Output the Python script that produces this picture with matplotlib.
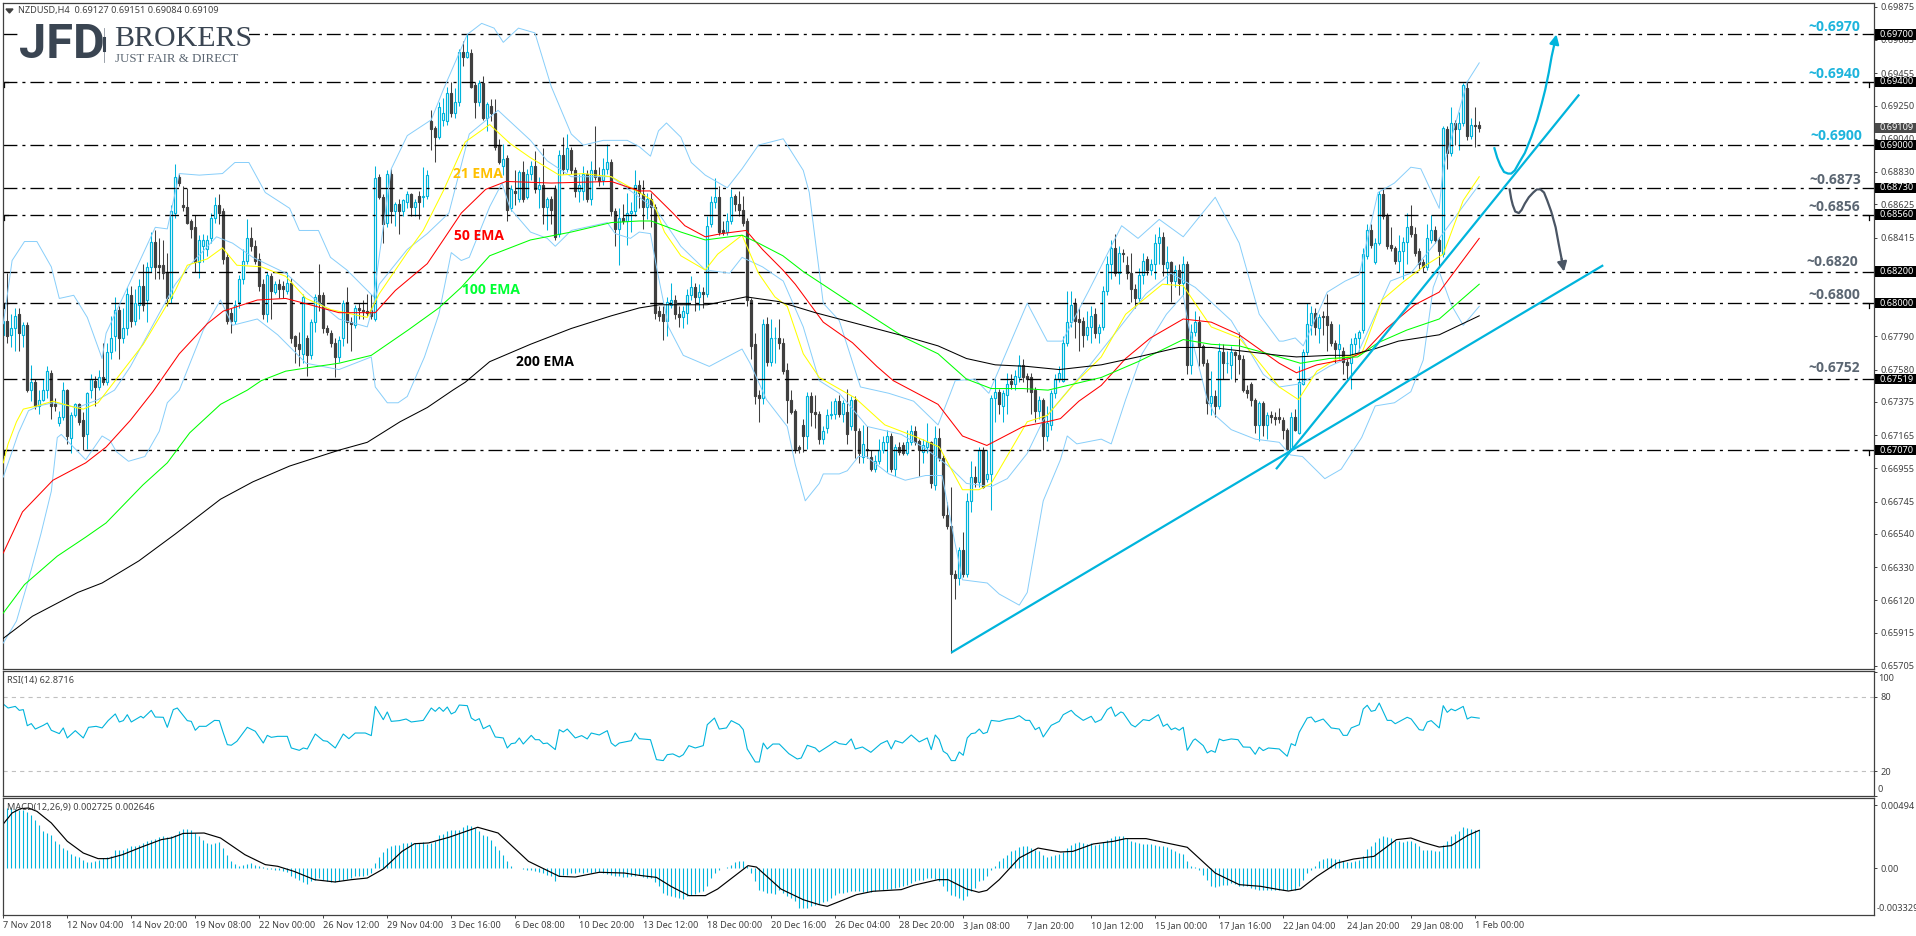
import numpy as np
import matplotlib
matplotlib.use("Agg")
import matplotlib.pyplot as plt
from matplotlib.patches import Rectangle

# ---------- candles, NZDUSD H4 ----------
opens = [
.6780,.6789,.6780,.6784,.6793,.6780,.6786,.6745,.6750,.6735,
.6739,.6745,.6756,.6736,.6724,.6728,.6745,.6715,.6729,.6736,
.6726,.6717,.6745,.6751,.6747,.6753,.6750,.6769,.6779,.6796,
.6778,.6784,.6805,.6789,.6799,.6811,.6802,.6823,.6839,.6824,
.6824,.6820,.6803,.6857,.6880,.6862,.6861,.6852,.6848,.6826,
.6836,.6834,.6841,.6854,.6862,.6858,.6829,.6794,.6789,.6801,
.6815,.6827,.6841,.6836,.6828,.6812,.6793,.6817,.6807,.6812,
.6811,.6808,.6813,.6779,.6774,.6768,.6778,.6767,.6788,.6805,
.6805,.6784,.6781,.6775,.6766,.6778,.6801,.6788,.6786,.6797,
.6796,.6795,.6796,.6790,.6880,.6867,.6851,.6882,.6858,.6863,
.6858,.6864,.6869,.6861,.6868,.6867,.6868,.6915,.6911,.6905,
.6916,.6915,.6933,.6920,.6927,.6959,.6956,.6958,.6938,.6927,
.6939,.6917,.6925,.6920,.6900,.6887,.6892,.6860,.6871,.6866,
.6883,.6867,.6882,.6887,.6872,.6875,.6861,.6866,.6872,.6844,
.6894,.6885,.6897,.6884,.6871,.6871,.6882,.6866,.6884,.6880,
.6878,.6885,.6889,.6858,.6847,.6854,.6852,.6857,.6858,.6875,
.6869,.6861,.6866,.6861,.6795,.6793,.6789,.6799,.6802,.6793,
.6791,.6794,.6805,.6810,.6804,.6807,.6806,.6850,.6864,.6867,
.6846,.6845,.6852,.6868,.6863,.6859,.6852,.6802,.6774,.6742,
.6740,.6787,.6763,.6778,.6778,.6775,.6758,.6739,.6732,.6709,
.6723,.6716,.6741,.6731,.6730,.6714,.6721,.6729,.6730,.6738,
.6730,.6731,.6722,.6739,.6719,.6703,.6708,.6703,.6695,.6700,
.6707,.6712,.6716,.6695,.6709,.6710,.6705,.6712,.6719,.6713,
.6706,.6709,.6712,.6685,.6715,.6702,.6666,.6659,.6629,.6626,
.6644,.6629,.6675,.6690,.6687,.6707,.6689,.6692,.6740,.6744,
.6735,.6742,.6751,.6749,.6753,.6761,.6754,.6753,.6745,.6732,
.6739,.6716,.6723,.6743,.6752,.6751,.6775,.6788,.6800,.6790,
.6789,.6780,.6785,.6793,.6781,.6785,.6808,.6825,.6835,.6819,
.6832,.6824,.6819,.6809,.6803,.6818,.6828,.6821,.6825,.6838,
.6842,.6822,.6826,.6814,.6821,.6813,.6825,.6761,.6782,.6788,
.6773,.6762,.6737,.6741,.6735,.6769,.6762,.6761,.6769,.6767,
.6765,.6745,.6749,.6739,.6723,.6737,.6723,.6729,.6728,.6728,
.6726,.6720,.6708,.6728,.6718,.6749,.6769,.6786,.6794,.6784,
.6792,.6792,.6787,.6775,.6771,.6770,.6763,.6762,.6774,.6778,
.6783,.6830,.6846,.6826,.6838,.6869,.6855,.6837,.6835,.6827,
.6833,.6839,.6849,.6844,.6833,.6826,.6823,.6840,.6846,.6840,
.6831,.6910,.6895,.6914,.6910,.6914,.6936,.6906,.6913,.69127]
closes = [
.6789,.6779,.6784,.6792,.6781,.6786,.6745,.6750,.6735,.6739,
.6745,.6757,.6735,.6735,.6728,.6745,.6716,.6729,.6736,.6725,
.6716,.6743,.6752,.6747,.6753,.6750,.6769,.6778,.6796,.6778,
.6784,.6806,.6789,.6800,.6811,.6799,.6823,.6839,.6823,.6823,
.6819,.6803,.6858,.6880,.6876,.6861,.6851,.6847,.6826,.6840,
.6840,.6840,.6854,.6862,.6857,.6828,.6789,.6789,.6799,.6815,
.6827,.6841,.6836,.6827,.6811,.6793,.6818,.6808,.6812,.6809,
.6809,.6813,.6778,.6773,.6771,.6804,.6767,.6788,.6804,.6801,
.6784,.6782,.6775,.6766,.6777,.6800,.6788,.6787,.6797,.6796,
.6795,.6794,.6792,.6879,.6867,.6850,.6882,.6858,.6863,.6858,
.6865,.6869,.6861,.6864,.6864,.6868,.6881,.6910,.6905,.6924,
.6920,.6933,.6920,.6927,.6959,.6956,.6959,.6937,.6927,.6939,
.6917,.6926,.6920,.6899,.6889,.6891,.6859,.6872,.6870,.6883,
.6866,.6882,.6887,.6872,.6875,.6861,.6866,.6859,.6842,.6894,
.6885,.6898,.6884,.6871,.6875,.6882,.6866,.6884,.6880,.6877,
.6885,.6889,.6858,.6847,.6854,.6852,.6857,.6858,.6875,.6870,
.6861,.6866,.6861,.6794,.6792,.6789,.6801,.6802,.6793,.6791,
.6795,.6805,.6810,.6804,.6807,.6806,.6849,.6864,.6867,.6845,
.6845,.6852,.6867,.6863,.6859,.6851,.6802,.6773,.6741,.6740,
.6787,.6763,.6778,.6778,.6775,.6757,.6739,.6731,.6708,.6708,
.6716,.6741,.6731,.6730,.6714,.6719,.6729,.6730,.6738,.6730,
.6737,.6717,.6739,.6720,.6705,.6711,.6707,.6695,.6700,.6707,
.6712,.6716,.6695,.6709,.6706,.6705,.6712,.6719,.6712,.6707,
.6710,.6712,.6686,.6715,.6702,.6666,.6659,.6629,.6626,.6644,
.6629,.6675,.6690,.6687,.6707,.6684,.6692,.6740,.6744,.6736,
.6743,.6749,.6749,.6754,.6761,.6753,.6752,.6744,.6732,.6739,
.6716,.6724,.6743,.6752,.6756,.6775,.6788,.6799,.6789,.6788,
.6780,.6785,.6792,.6781,.6785,.6808,.6825,.6835,.6819,.6832,
.6831,.6819,.6809,.6803,.6818,.6827,.6821,.6825,.6838,.6842,
.6825,.6826,.6814,.6821,.6813,.6825,.6761,.6782,.6788,.6773,
.6762,.6737,.6741,.6735,.6770,.6762,.6762,.6769,.6767,.6765,
.6745,.6743,.6739,.6723,.6737,.6723,.6729,.6728,.6727,.6727,
.6720,.6708,.6728,.6720,.6750,.6769,.6787,.6794,.6785,.6791,
.6791,.6786,.6775,.6771,.6774,.6763,.6761,.6774,.6778,.6782,
.6831,.6846,.6837,.6838,.6869,.6855,.6836,.6835,.6827,.6833,
.6839,.6848,.6844,.6832,.6825,.6823,.6841,.6846,.6840,.6833,
.6911,.6895,.6914,.6910,.6914,.6938,.6906,.6913,.6912,.69109]
highs = [
.6793,.6819,.6793,.6797,.6797,.6788,.6788,.6761,.6752,.6745,
.6752,.6760,.6758,.6740,.6732,.6750,.6746,.6731,.6737,.6737,
.6731,.6744,.6755,.6754,.6758,.6775,.6775,.6792,.6804,.6798,
.6797,.6810,.6811,.6809,.6815,.6825,.6826,.6845,.6846,.6841,
.6840,.6832,.6862,.6888,.6882,.6874,.6873,.6853,.6856,.6843,
.6844,.6843,.6857,.6867,.6869,.6860,.6832,.6797,.6802,.6818,
.6834,.6853,.6848,.6840,.6832,.6815,.6820,.6819,.6814,.6815,
.6814,.6820,.6816,.6780,.6782,.6806,.6780,.6790,.6806,.6825,
.6807,.6786,.6783,.6778,.6779,.6802,.6810,.6791,.6799,.6800,
.6802,.6806,.6806,.6887,.6882,.6869,.6884,.6885,.6864,.6866,
.6866,.6871,.6870,.6866,.6871,.6886,.6884,.6922,.6912,.6927,
.6930,.6937,.6940,.6936,.6961,.6966,.6970,.6961,.6940,.6941,
.6944,.6927,.6929,.6929,.6904,.6901,.6894,.6875,.6884,.6884,
.6890,.6885,.6890,.6896,.6880,.6898,.6867,.6868,.6875,.6897,
.6905,.6907,.6899,.6886,.6882,.6887,.6884,.6890,.6912,.6886,
.6892,.6901,.6891,.6860,.6860,.6863,.6870,.6864,.6884,.6878,
.6878,.6870,.6870,.6863,.6798,.6798,.6804,.6813,.6805,.6798,
.6798,.6809,.6817,.6813,.6812,.6810,.6855,.6868,.6879,.6874,
.6852,.6857,.6872,.6869,.6871,.6868,.6854,.6803,.6781,.6745,
.6790,.6791,.6790,.6785,.6790,.6778,.6762,.6745,.6733,.6710,
.6727,.6744,.6744,.6742,.6732,.6722,.6733,.6738,.6740,.6742,
.6739,.6746,.6741,.6741,.6721,.6723,.6722,.6707,.6704,.6714,
.6716,.6720,.6718,.6711,.6712,.6712,.6720,.6723,.6722,.6714,
.6714,.6724,.6713,.6722,.6721,.6704,.6674,.6684,.6631,.6646,
.6655,.6680,.6700,.6697,.6709,.6709,.6707,.6742,.6752,.6746,
.6745,.6756,.6755,.6758,.6767,.6765,.6756,.6756,.6747,.6741,
.6740,.6735,.6745,.6755,.6760,.6779,.6808,.6808,.6803,.6797,
.6791,.6795,.6798,.6797,.6787,.6811,.6830,.6840,.6844,.6836,
.6834,.6830,.6832,.6812,.6822,.6832,.6830,.6828,.6844,.6848,
.6845,.6836,.6827,.6824,.6825,.6830,.6827,.6787,.6795,.6792,
.6774,.6765,.6757,.6745,.6775,.6774,.6770,.6773,.6770,.6782,
.6767,.6748,.6750,.6740,.6738,.6738,.6731,.6732,.6731,.6734,
.6728,.6721,.6731,.6733,.6760,.6771,.6800,.6798,.6797,.6793,
.6795,.6806,.6789,.6777,.6787,.6772,.6765,.6778,.6781,.6783,
.6835,.6850,.6850,.6841,.6871,.6872,.6857,.6848,.6836,.6843,
.6842,.6857,.6862,.6848,.6835,.6828,.6850,.6856,.6849,.6842,
.6912,.6912,.6924,.6916,.6921,.6939,.6940,.6917,.6924,.69151]
lows = [
.6771,.6775,.6772,.6770,.6770,.6772,.6744,.6738,.6733,.6730,
.6738,.6740,.6727,.6732,.6722,.6726,.6711,.6705,.6728,.6723,
.6707,.6708,.6740,.6735,.6745,.6748,.6748,.6765,.6770,.6765,
.6775,.6780,.6785,.6786,.6790,.6795,.6788,.6820,.6815,.6815,
.6815,.6798,.6800,.6854,.6874,.6858,.6850,.6841,.6820,.6816,
.6826,.6830,.6838,.6851,.6850,.6825,.6787,.6781,.6787,.6797,
.6812,.6825,.6833,.6825,.6808,.6790,.6788,.6790,.6806,.6803,
.6803,.6806,.6775,.6762,.6760,.6762,.6754,.6765,.6782,.6795,
.6781,.6780,.6772,.6753,.6763,.6773,.6775,.6770,.6784,.6790,
.6790,.6792,.6790,.6789,.6866,.6838,.6848,.6851,.6849,.6844,
.6855,.6860,.6855,.6855,.6853,.6861,.6866,.6897,.6889,.6904,
.6912,.6913,.6918,.6917,.6925,.6950,.6955,.6936,.6917,.6925,
.6916,.6909,.6915,.6897,.6888,.6881,.6852,.6858,.6862,.6864,
.6864,.6866,.6878,.6870,.6860,.6850,.6846,.6850,.6840,.6842,
.6882,.6883,.6882,.6867,.6864,.6865,.6864,.6862,.6878,.6874,
.6875,.6882,.6855,.6836,.6824,.6850,.6837,.6845,.6855,.6860,
.6847,.6853,.6848,.6790,.6789,.6777,.6779,.6797,.6790,.6785,
.6784,.6787,.6802,.6795,.6796,.6797,.6804,.6848,.6860,.6843,
.6843,.6843,.6850,.6858,.6855,.6849,.6798,.6765,.6736,.6725,
.6736,.6760,.6760,.6762,.6771,.6755,.6724,.6730,.6705,.6705,
.6706,.6708,.6722,.6721,.6711,.6711,.6718,.6727,.6727,.6728,
.6725,.6711,.6720,.6702,.6699,.6699,.6702,.6694,.6693,.6698,
.6705,.6693,.6693,.6691,.6704,.6704,.6704,.6710,.6710,.6691,
.6699,.6705,.6683,.6682,.6700,.6664,.6657,.6579,.6613,.6622,
.6627,.6627,.6668,.6684,.6684,.6683,.6687,.6669,.6725,.6730,
.6725,.6730,.6746,.6745,.6750,.6750,.6744,.6730,.6725,.6727,
.6707,.6713,.6720,.6740,.6750,.6750,.6773,.6785,.6778,.6770,
.6772,.6777,.6775,.6778,.6775,.6783,.6805,.6815,.6817,.6812,
.6826,.6815,.6801,.6797,.6800,.6812,.6818,.6818,.6815,.6825,
.6817,.6812,.6801,.6810,.6805,.6805,.6755,.6755,.6779,.6760,
.6760,.6730,.6729,.6728,.6733,.6752,.6756,.6752,.6750,.6755,
.6744,.6740,.6735,.6718,.6713,.6716,.6714,.6724,.6723,.6724,
.6714,.6707,.6707,.6719,.6717,.6748,.6767,.6780,.6780,.6775,
.6780,.6770,.6773,.6762,.6765,.6755,.6752,.6746,.6768,.6770,
.6781,.6828,.6835,.6825,.6837,.6853,.6834,.6833,.6825,.6820,
.6815,.6825,.6842,.6830,.6821,.6820,.6821,.6838,.6838,.6823,
.6829,.6885,.6893,.6900,.6897,.6912,.6903,.6904,.6899,.69084]

# ---------- moving averages: (bar, price) ----------
ema200_x = [0,7.3,18.6,24.7,33.9,43,54.3,62.4,71.6,83.9,91,99.2,106,112.4,115.5,121.6,131.8,142,152,159,164,176,185.7,193.9,203,215,225.5,233.7,240.8,248,256,264,274.5,283.7,293.9,302,319,323.3,331.5,336.6,342.7,348.8,359,369]
ema200_y = [.6588,.6602,.6617,.6623,.6637,.6654,.6676,.6687,.6697,.6707,.6712,.6725,.6734,.6745,.6750,.6763,.6774,.6784,.6792,.6797,.6799,.6799,.6804,.6801,.6794,.6786,.6779,.6773,.6765,.6761,.6760,.6758,.6761,.6766,.6772,.6772,.6767,.6766,.6767,.6767,.6771,.6776,.6780,.6792]
ema100_x = [0,5.3,13.5,20.6,25.7,34.9,41,46.6,54.3,61,64.5,70.6,75.7,83.9,92,101.2,108.9,114.5,121.6,131.8,142,152,159,162,169.4,175.5,184.7,188.8,194.9,200,212,225.5,233.7,240.8,247,255,261.2,274.5,283.7,295,302,309,319,324.3,331.5,338.6,343.7,350.9,359,369]
ema100_y = [.6604,.6622,.6640,.6652,.6661,.6685,.6699,.6718,.6736,.6745,.6751,.6757,.6759,.6762,.6767,.6783,.6797,.6810,.6830,.6840,.6845,.6851,.6852,.6852,.6845,.6840,.6843,.6838,.6830,.6820,.6800,.6778,.6768,.6752,.6746,.6746,.6745,.6753,.6763,.6777,.6774,.6773,.6766,.6762,.6765,.6766,.6775,.6783,.6790,.6812]
ema50_x = [0,4.8,12.4,20.6,25.7,31.8,37.4,44,51,55,63.5,70.6,76.7,83.9,93,98,106,110,114.5,120.6,125.7,137,152,159,161.8,167.4,170.4,175.5,179.6,185.7,189.8,194.9,198,205,212.3,218.4,222.5,233.7,239.8,245.9,255,261,264.3,268.9,274.5,280.6,286.8,295,302,309,319,323.3,328.4,336.6,340.6,345.8,352.9,359,369]
ema50_y = [.6642,.6668,.6688,.6699,.6709,.6726,.6744,.6768,.6787,.6795,.6802,.6803,.6799,.6794,.6794,.6808,.6825,.6840,.6857,.6872,.6877,.6876,.6877,.6871,.6871,.6857,.6849,.6842,.6844,.6846,.6834,.6821,.6812,.6788,.6775,.6760,.6751,.6736,.6716,.6710,.6722,.6725,.6727,.6738,.6748,.6765,.6778,.6790,.6788,.6780,.6762,.6756,.6761,.6765,.6770,.6784,.6799,.6807,.6841]
ema21_x = [0,1.2,3.3,5,8.4,12.4,18,20,23.7,29.8,35,39.5,43,46,51,54.8,58.4,64.5,70.6,75.7,81.8,91,94,101,105,110,115.5,121.6,126.7,131.8,139,145,152,159,162.3,165.3,169.4,175.5,178.6,184.7,188.8,192.9,196,200,204,213,220.4,228.6,234,239.8,243.9,247,256,261,267.4,274.5,280.6,289.8,295,302,309,319,323.8,328.4,333.5,339.6,344.7,349.8,355,360,365,369]
ema21_y = [.6699,.6711,.6725,.6733,.6735,.6738,.6734,.6733,.6737,.6757,.6774,.6793,.6808,.6824,.6828,.6835,.6824,.6823,.6817,.6803,.6796,.6791,.6806,.6832,.6846,.6871,.6902,.6913,.6901,.6892,.6881,.6882,.6880,.6870,.6865,.6845,.6830,.6821,.6831,.6843,.6819,.6804,.6798,.6768,.6753,.6740,.6723,.6715,.6709,.6682,.6682,.6686,.6725,.6729,.6748,.6766,.6793,.6812,.6811,.6785,.6778,.6747,.6739,.6757,.6765,.6768,.6802,.6813,.6823,.6831,.6865,.6880]

# ---------- Bollinger bands ----------
bb_up_x = [0,2.2,5.3,8.4,12,14,17.6,21,24.7,25.7,31.8,38,41,44,49,54.8,57.9,61.4,65.5,71.6,74,78.8,81.8,85.9,92.6,97,101,107,110,116,119.6,122.7,125,128.8,132.9,137,142,145,150,156,159,161.8,163.8,165.8,169.4,172,175.5,181,184.7,188.8,195,200,201.5,205,209,214.3,221.4,227.6,233.7,236.8,238,242.9,246.4,256,261,264.8,271.4,279.6,283.7,289,295,303,309,314,319,320,323,325,331,335.5,339,340,343.7,347.8,351.9,354.4,359,360,366,369]
bb_up_y = [.6787,.6827,.6839,.6839,.6823,.6803,.6805,.6791,.6765,.6781,.6814,.6848,.6847,.6882,.6881,.6882,.6889,.6889,.6870,.6860,.6846,.6846,.6829,.6821,.6804,.6885,.6906,.6916,.6935,.6970,.6977,.6974,.6965,.6974,.6971,.6937,.6907,.6900,.6903,.6903,.6899,.6893,.6909,.6914,.6905,.6889,.6881,.6873,.6885,.6900,.6904,.6884,.6870,.6800,.6789,.6747,.6743,.6738,.6723,.6743,.6751,.6752,.6743,.6800,.6776,.6776,.6808,.6849,.6841,.6853,.6842,.6867,.6838,.6793,.6776,.6776,.6778,.6773,.6807,.6814,.6818,.6829,.6870,.6876,.6886,.6885,.6860,.6886,.6940,.6952]
bb_mid_x = [0,3.8,6.3,8.9,12.4,18.6,23.7,27.8,31.8,38,43,47,53.3,57.3,62.4,70.6,76.7,83.9,91,94,101,106,111.4,116.5,123.7,131.8,136,142,147,152,159,163.3,169.4,175.5,181.6,184.7,189.8,195,200,204,209,216,224.5,230.6,236.8,240.8,247,251,256,260,266.3,271.4,278.6,285.7,291.9,298,307,315,319,324.3,331.5,338.6,346.8,351.9,359,369]
bb_mid_y = [.6690,.6718,.6732,.6735,.6737,.6734,.6739,.6745,.6760,.6789,.6812,.6825,.6842,.6838,.6829,.6819,.6805,.6790,.6785,.6812,.6834,.6844,.6857,.6907,.6922,.6903,.6890,.6880,.6880,.6880,.6867,.6859,.6836,.6821,.6819,.6829,.6823,.6814,.6785,.6751,.6743,.6722,.6717,.6708,.6696,.6686,.6684,.6689,.6705,.6726,.6745,.6760,.6783,.6806,.6819,.6810,.6789,.6755,.6747,.6749,.6760,.6768,.6814,.6819,.6841,.6875]
bb_lo_x = [0,3.3,6.3,9.4,12,13.5,14.5,16,20.6,24.7,26.7,28.3,31.3,35.4,39,41,44,50,54.3,57.3,63.5,68.6,75.7,83.9,92,93,96,98.7,101,105.3,108.9,112,114.5,116.5,121.6,124.7,126.7,131.8,136,138,142,151,153,156.8,159,161.8,163.3,166.3,170,176.5,184.7,186.7,190.8,196,198,200.5,204,205,209,211,213.8,215.8,221.4,225.5,230.6,234.7,237.8,239.8,246,249,254,256,260,264.3,266,268.4,274.5,277,280.6,284.7,290.8,295,296.4,301,303,307,313,319,321.8,324.8,330.4,334.5,339.6,343,347.8,351.9,355,357.5,359,362,365,369]
bb_lo_y = [.6585,.6599,.6625,.6654,.6681,.6715,.6717,.6713,.6701,.6716,.6713,.6706,.6700,.6703,.6719,.6737,.6745,.6783,.6802,.6786,.6790,.6780,.6762,.6758,.6766,.6747,.6737,.6737,.6741,.6766,.6793,.6832,.6827,.6829,.6861,.6876,.6860,.6845,.6841,.6836,.6846,.6851,.6844,.6841,.6845,.6844,.6823,.6785,.6767,.6760,.6771,.6762,.6739,.6722,.6698,.6675,.6686,.6692,.6692,.6694,.6703,.6703,.6692,.6688,.6691,.6691,.6650,.6625,.6623,.6616,.6609,.6617,.6675,.6701,.6716,.6711,.6714,.6711,.6739,.6768,.6793,.6805,.6785,.6739,.6729,.6720,.6714,.6712,.6704,.6703,.6689,.6695,.6715,.6735,.6737,.6744,.6764,.6810,.6820,.6799,.6786,.6798]

# ---------- levels, trendlines, forecast paths ----------
levels = [.6970,.6940,.6900,.6873,.6856,.6820,.6800,.67519,.6707]
level_tags = ["0.69700","0.69400","0.69000","0.68730","0.68560","0.68200","0.68000","0.67519","0.67070"]
last_price = 0.69109
hook_levels = [.6940,.6856,.6800,.6707]
trend_a_x, trend_a_y = [237,400], [.6579,.6824]
trend_b_x, trend_b_y = [318.2,394], [.6695,.6932]
up_x = [372.8,373.5,374.3,375.2,376.2,377.0,377.9,379,380.4,382,383.5,384.6,385.5,386.4,387.1,387.8]
up_y = [.6898,.6892,.6887,.6883,.6882,.6882,.6884,.6889,.6895,.6905,.6916,.6926,.6935,.6946,.6956,.6964]
down_x = [376.6,377,377.4,378,378.9,379.6,380.4,381.4,382.5,383.4,384.3,385.2,386,387,388.1,388.9,389.6]
down_y = [.6872,.6866,.6862,.6858,.6857,.6859,.6863,.6867,.6870,.6872,.6872,.6870,.6865,.6858,.6848,.6837,.6828]

price_ticks = [0.69875,0.69665,0.69455,0.69250,0.69040,0.68830,0.68625,0.68415,0.68205,0.67995,0.67790,0.67580,0.67375,0.67165,0.66955,0.66745,0.66540,0.66330,0.66120,0.65915,0.65705]

# ---------- RSI ----------
rsi_x = [0,1.2,3,4,5,6,7,8,10,11,12,14,15,16,18,20,21.3,23.2,24.7,26.2,28,29,30,31,32,34.4,35,37,38,40,41,42.5,43.5,46,47,48,49,50.7,52.8,54,55,56,57,58.4,61,63,65,66,67,68.6,71,72,74,75,76,78,80,81,83,85,86.4,88,90.5,92,93,95,96,97,99,100.7,102,105,107,108,109,110,111,112,113,114,116,117,118,119,120,121.6,123,125,126,127,128,129,130,132,133,134,135,136,138,139,140,141,143,144.6,146,147,149,151,152,153,154,157,158,
159,161.8,163.3,165,166,167.4,169,170,171.4,173,175,176,177.8,179,180.8,182,184,185,186,188,189,190,191,192.4,194,196.4,198.5,199.5,201,203,204,206.6,208,209,210.7,212,213,214.8,216.9,219.4,221,222,223,224.8,227,229,231,232,233,234,235,236,237,238,239,240,241,242,243,244,245,246,247,249,251,252.6,254,255.6,256.6,258,259,260,262,264,265,267,268,270,272,273,274.5,276,277,278,279.4,280,282,283,285,286.5,288.8,290,291,292,293,294,295,296,297.5,298,300,301,302,303,304,305,307,308.7,310,311.7,313,314,315,316.3,319,
321,322,323,324,326,327,328,330,332,334,335,336,337,339,340,341,342,343,344,346,347,348,351,352,354,355,356,357,359,360,361,362,363,365,366,367,369]
rsi_y = [74.3,71.1,72.4,69.2,69.8,56.8,58.5,54.1,57.1,59,53.1,50.4,55,46.9,52.8,46.9,55.5,56.3,55,60.9,66.3,59.8,60.9,65.7,59.8,64.4,63,69.2,63.8,63.6,55.5,69.8,71.1,60.9,60.3,53.1,56.3,56.3,61.1,60.9,50.9,41.5,41,44.2,55.5,52.3,42.8,49,47.4,48.2,48.2,38.8,36.9,38.8,38,50.1,44.7,44.2,38.8,50.1,46.3,50.9,50.9,48.8,72.4,61.7,67.9,60.3,60.9,62.2,59.8,61.1,71.1,68.4,71.6,68.4,71.9,66.3,67.9,73.5,73,63,60.9,62.5,54.4,57.1,47.7,46.9,38.8,42.3,42.8,46.9,42,49,45.5,45.5,42.3,42.8,37.5,53.6,51.7,54.1,46.9,48.8,46.1,50.9,49.3,52.8,42.8,40.2,42.8,44.7,50.9,
46.3,45.5,29.4,28.6,33.4,34,31.5,33.4,40.7,38.8,40.7,57.6,63,54.1,55,60.9,57.6,53.6,38,27.5,27.5,42.8,38,42,42,34.2,29.9,30.7,41,38.8,35.6,41,44.2,42.3,41.5,46.1,38,39.6,35.3,42.3,44.7,38,44.7,42.8,49.3,43.7,46.9,37.5,49.3,45.5,36.1,34,28.6,28.6,35.6,32.9,46.9,50.4,50.9,54.1,50.4,51.5,61.1,60.3,62.2,62.8,64.9,61.1,61.1,53.6,55.5,47.7,57.1,60.3,65.7,69.2,65.7,61.1,64.4,59.5,61.7,69.8,71.9,64.4,67.9,67.1,57.6,55.8,61.7,60.9,65.7,56.3,58.2,53.6,55,53.1,55.5,36.9,45,46.1,40.7,34.8,36.7,35.3,46.1,44.7,46.1,45.5,39.6,39.4,33.7,39.4,36.7,38.8,38,
32.1,42.3,40.7,51.5,63,63.8,59.8,62.2,55,54.1,49,49,55,57.6,70.3,73.3,68.4,69.2,75.1,61.1,61.1,58.4,63.6,62.2,53.6,53.1,59.8,60.9,55,73,67.6,70.3,68.9,72.4,62.2,63.8,62.9]

# ---------- MACD, histogram in units of 1e-5 ----------
macd_hist = [
473,473,473,465,460,455,439,421,376,337,295,277,259,217,191,159,141,112,94,89,68,
47,52,60,68,78,89,99,141,146,146,159,178,178,186,199,212,225,233,246,251,246,251,264,290,308,311,298,277,251,225,199,193,199,204,159,107,60,37,21,24,37,42,29,21,10,
-3,-5,-10,-16,-18,-31,-58,-76,-89,-110,-120,-102,-89,-76,-94,-102,-110,-110,-102,-89,-81,-76,-63,-63,-58,-50,-37,
42,89,125,159,173,181,186,199,199,204,199,199,204,193,199,212,259,272,290,298,298,298,322,342,335,316,290,264,251,225,178,141,107,55,16,3,0,
-3,-10,-16,-24,-29,-37,-50,-63,-102,-63,-55,-50,-37,-37,-31,-37,-31,-37,-26,-31,-37,-44,-50,-58,-63,-68,-68,-63,-58,-50,
-68,-76,-76,-110,-141,-193,-207,-214,-227,-233,-238,-220,-207,-201,-188,-180,-141,-76,-37,-10,0,10,24,47,55,60,16,-37,-102,-167,-180,-193,-193,-199,-167,-193,-220,-233,-259,-311,-311,-311,-298,-285,-280,-267,-259,-233,-207,-193,-193,-188,-180,-180,-180,-186,-186,-186,-180,-173,-167,-162,-159,-154,-149,-141,-128,-115,-102,-89,-89,-76,-76,-81,-102,-141,-180,-207,-220,-233,-246,-220,-180,-154,-102,-89,-63,-10,16,55,81,107,133,146,167,173,178,159,146,133,107,89,94,107,115,125,159,186,199,206,199,193,199,186,193,204,220,238,251,251,251,238,217,204,199,193,193,191,186,178,173,167,152,133,120,115,55,21,10,-10,-50,-89,-141,-149,-136,-128,-133,-115,-120,-141,-141,-141,-154,-162,-167,-167,-167,-167,-173,
-167,-173,-173,-173,-173,-141,-89,-37,-10,21,55,76,81,81,76,76,55,47,47,55,68,94,152,178,204,238,256,246,238,212,212,207,212,212,199,173,146,146,146,139,133,186,217,251,272,290,322,316,311,303,298]
macd_line_x = [0,2.2,4.3,6.3,8.4,12,16,20,23.7,26.2,29.8,34.4,39.5,42,45,50.2,54.3,60.4,65.5,68.6,72.7,77.8,82.9,87,91,95,99.7,102.8,106.3,111.4,118.6,123.7,131.3,139,143,149,155.3,159,163.3,166.9,171.4,175.5,178.6,186.2,188.3,194.4,200,204,206,213.3,217.4,224.5,227.6,233.7,236.2,240.8,243.9,245.9,249,254,258.7,264.3,267.4,272.5,277.6,280.6,285.7,290.8,296,303,309,314.3,319,321.3,324.3,328.4,333.5,337.6,342.7,348.3,351.9,354.9,359,362,366,369]
macd_line_y = [348,434,468,473,447,356,212,120,76,76,107,165,225,238,274,277,238,107,29,16,-24,-89,-107,-89,-76,-5,133,193,199,243,322,277,55,-63,-68,-31,-37,-55,-71,-141,-214,-214,-162,21,10,-162,-246,-285,-298,-207,-180,-167,-133,-89,-89,-162,-188,-173,-89,81,159,128,133,191,212,233,233,199,165,-37,-128,-141,-167,-178,-162,-63,42,73,94,225,238,204,167,178,256,298]

# ---------- x axis ----------
x_tick_labels = ["7 Nov 2018","12 Nov 04:00","14 Nov 20:00","19 Nov 08:00","22 Nov 00:00","26 Nov 12:00","29 Nov 04:00","3 Dec 16:00","6 Dec 08:00","10 Dec 20:00","13 Dec 12:00","18 Dec 00:00","20 Dec 16:00","26 Dec 04:00","28 Dec 20:00","3 Jan 08:00","7 Jan 20:00","10 Jan 12:00","15 Jan 00:00","17 Jan 16:00","22 Jan 04:00","24 Jan 20:00","29 Jan 08:00","1 Feb 00:00"]

# ---------- drawing ----------
W, H = 1916, 936
plt.rcParams['font.family'] = ['Noto Sans', 'DejaVu Sans']
plt.rcParams['lines.scale_dashes'] = False
fig = plt.figure(figsize=(W/100, H/100), dpi=100, facecolor='white')
L, R = 2.5, 1873.6
def axes_px(top, bottom):
    return fig.add_axes([L/W, 1-bottom/H, (R-L)/W, (bottom-top)/H])
ax = axes_px(2.5, 669)
ax_rsi = axes_px(671, 796)
ax_macd = axes_px(798, 915)
XLIM = (-0.2, 467.6)
FRAME = '#404040'; CYAN = '#00B4DC'; DARK = '#404040'; GREY_TXT = '#404040'
BAND = '#87CEFA'
for a in (ax, ax_rsi, ax_macd):
    a.set_xlim(*XLIM)
    a.set_facecolor('white')
    for s in a.spines.values():
        s.set_color(FRAME); s.set_linewidth(0.9)
    a.yaxis.tick_right()
    a.tick_params(axis='y', length=2.2, width=0.7, color=FRAME, labelsize=6.6, labelcolor=GREY_TXT, pad=3)
    a.set_xticks([])

ax.set_ylim(0.65686, 0.69902)
ax.set_yticks(price_ticks)
ax.set_yticklabels([f"{v:.5f}" for v in price_ticks])

idx = np.arange(len(opens))
o, c, h, l = map(np.array, (opens, closes, highs, lows))
up = c >= o
ax.vlines(idx[up], l[up], h[up], color=CYAN, lw=0.75, zorder=2)
ax.vlines(idx[~up], l[~up], h[~up], color=DARK, lw=0.75, zorder=2)
ax.bar(idx[up], (c-o)[up], bottom=o[up], width=0.52, facecolor='white', edgecolor=CYAN, linewidth=0.85, zorder=2.2)
ax.bar(idx[~up], (o-c)[~up], bottom=c[~up], width=0.52, facecolor=DARK, edgecolor=DARK, linewidth=0.85, zorder=2.2)

for lv in levels:
    ax.plot(XLIM, [lv, lv], color='black', lw=0.95, ls=(0, (10, 3.6, 2.2, 3.6)), zorder=2.5)

ax.plot(bb_up_x, bb_up_y, color=BAND, lw=0.7, zorder=3)
ax.plot(bb_mid_x, bb_mid_y, color=BAND, lw=0.7, zorder=3)
ax.plot(bb_lo_x, bb_lo_y, color=BAND, lw=0.7, zorder=3)
ax.plot(ema21_x, ema21_y, color='#FFFF00', lw=0.75, zorder=3.1)
ax.plot(ema50_x, ema50_y, color='#FF0000', lw=0.75, zorder=3.1)
ax.plot(ema100_x, ema100_y, color='#00FF00', lw=0.75, zorder=3.1)
ax.plot(ema200_x, ema200_y, color='black', lw=0.75, zorder=3.1)

ax.plot(trend_a_x, trend_a_y, color=CYAN, lw=1.6, zorder=4, solid_capstyle='butt')
ax.plot(trend_b_x, trend_b_y, color=CYAN, lw=1.6, zorder=4, solid_capstyle='butt')
ax.plot(up_x, up_y, color=CYAN, lw=1.6, zorder=4)
ax.plot(down_x, down_y, color='#4A5564', lw=1.6, zorder=4)
ax.annotate('', xy=(388.3, .6970), xytext=(up_x[-1], up_y[-1]), zorder=4,
            arrowprops=dict(arrowstyle='-|>', color=CYAN, lw=1.6, mutation_scale=14, shrinkA=0, shrinkB=0))
ax.annotate('', xy=(390.2, .6820), xytext=(down_x[-1], down_y[-1]), zorder=4,
            arrowprops=dict(arrowstyle='-|>', color='#4A5564', lw=1.6, mutation_scale=14, shrinkA=0, shrinkB=0))

# level hooks at both chart edges
dy = 5/15811
for lv in hook_levels:
    for xa, xb in ((0.2, 1.2), (466.4, 465.0)):
        ax.plot([xa, xa, xb], [lv-dy, lv, lv], color='black', lw=0.9, zorder=2.5, solid_joinstyle='miter')

# price tags on the right scale
xf = ax.get_yaxis_transform()
ax_w = R - L
def tag(level, txt, fc):
    ax.add_patch(Rectangle(((1875.5-L)/ax_w, level-0.00033), (W-1875.5)/ax_w, 0.00066, transform=xf,
                           facecolor=fc, edgecolor='none', clip_on=False, zorder=6))
    ax.text((1879-L)/ax_w, level, txt, transform=xf, color='white', fontsize=6.6, va='center', ha='left',
            clip_on=False, zorder=7)
for lv, txt in zip(levels, level_tags):
    tag(lv, txt, 'black')
tag(last_price, f"{last_price:.5f}", '#4A4A4A')

# RSI
ax_rsi.set_ylim(0, 101)
ax_rsi.plot(XLIM, [80, 80], color='#C0C0C0', lw=0.8, ls=(0, (3, 3)))
ax_rsi.plot(XLIM, [20, 20], color='#C0C0C0', lw=0.8, ls=(0, (3, 3)))
ax_rsi.plot(rsi_x, rsi_y, color=CYAN, lw=0.8)
ax_rsi.set_yticks([100, 80, 20, 0])
ax_rsi.set_yticklabels(['', '80', '20', ''])

# MACD
ax_macd.set_ylim(-0.00366, 0.005515)
hist = np.array(macd_hist) * 1e-5
ax_macd.vlines(np.arange(len(hist)), 0, hist, color=CYAN, lw=0.8)
ax_macd.plot(macd_line_x, np.array(macd_line_y) * 1e-5, color='black', lw=0.85)
ax_macd.set_yticks([0.00494, 0.0])
ax_macd.set_yticklabels(['0.00494', '0.00'])
ax_macd.set_xticks(np.arange(len(x_tick_labels)) * 16)
ax_macd.set_xticklabels(x_tick_labels, ha='left', fontsize=6.6, color=GREY_TXT)
ax_macd.tick_params(axis='x', length=2.5, width=0.7, color=FRAME, pad=2)

def ftext(x, y, s, **kw):
    kw.setdefault('va', 'center')
    return fig.text(x/W, 1-y/H, s, **kw)

ftext(1878, 678.5, '100', fontsize=6.6, color=GREY_TXT, ha='left')
ftext(1878, 789.5, '0', fontsize=6.6, color=GREY_TXT, ha='left')
ftext(1877, 908.5, '-0.003329', fontsize=6.6, color=GREY_TXT, ha='left')

ftext(18, 10.7, 'NZDUSD,H4  0.69127 0.69151 0.69084 0.69109', fontsize=6.6, color=GREY_TXT, ha='left')
fig.add_artist(plt.Polygon([(6/W, 1-9/H), (13/W, 1-9/H), (9.5/W, 1-13/H)], closed=True, color=GREY_TXT, transform=fig.transFigure))
ftext(7, 680.7, 'RSI(14) 62.8716', fontsize=6.6, color=GREY_TXT, ha='left')
ftext(7, 807.7, 'MACD(12,26,9) 0.002725 0.002646', fontsize=6.6, color=GREY_TXT, ha='left')

# level annotations
BLUE_T, GREY_T = '#1DB4DC', '#5B6672'
for x, y, s, col in [(1860.5, 27, '~0.6970', BLUE_T), (1860, 74, '~0.6940', BLUE_T), (1862, 136, '~0.6900', BLUE_T),
                     (1861.5, 180, '~0.6873', GREY_T), (1860.5, 207, '~0.6856', GREY_T), (1858.5, 262, '~0.6820', GREY_T),
                     (1860, 295, '~0.6800', GREY_T), (1860, 368, '~0.6752', GREY_T)]:
    ftext(x, y, s, fontsize=10, fontweight='bold', color=col, ha='right', family='Open Sans')

# EMA captions
for x, y, s, col in [(453, 174, '21 EMA', '#FFC000'), (454, 236, '50 EMA', '#FF0000'),
                     (462, 290, '100 EMA', '#00FF33'), (516, 362, '200 EMA', 'black')]:
    ftext(x, y, s, fontsize=10, fontweight='bold', color=col, ha='left', family='Open Sans')

# logo on a white plate that hides the level line behind it
fig.add_artist(Rectangle((20/W, 1-66/H), 229/W, 40/H, transform=fig.transFigure, facecolor='white', edgecolor='none', zorder=8))
LOGO = '#3A4552'
ftext(19, 45, 'JFD', fontsize=35, fontweight='bold', color=LOGO, ha='left', family='Roboto', zorder=9)
fig.add_artist(plt.Line2D([104/W, 104/W], [1-28/H, 1-62/H], color='#8A929C', lw=0.6, zorder=9))
fig.add_artist(plt.Line2D([104/W, 104/W], [1-38/H, 1-50/H], color=LOGO, lw=2.2, zorder=9))
ftext(114, 39, 'BROKERS', fontsize=21.5, color=LOGO, ha='left', family='Liberation Serif', zorder=9)
ftext(115, 59, 'JUST FAIR & DIRECT', fontsize=9.3, color='#5B6672', ha='left', family='Liberation Serif', zorder=9)

fig.savefig('out.png', dpi=100, facecolor='white')
